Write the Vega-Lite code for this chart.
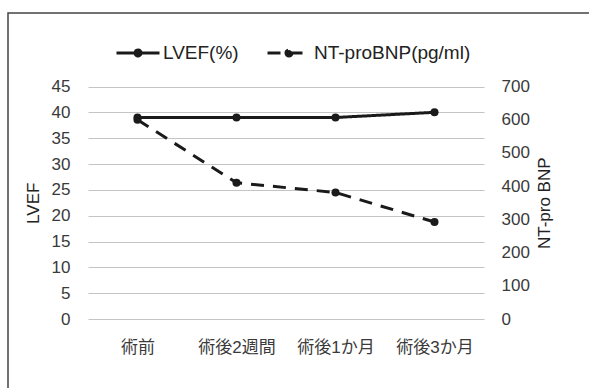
{
  "$schema": "https://vega.github.io/schema/vega-lite/v6.json",
  "autosize": "none",
  "width": 582,
  "height": 380,
  "padding": {"left": 8, "top": 13, "right": 0, "bottom": 0},
  "background": "white",
  "config": {
    "view": {"stroke": "#444444", "strokeWidth": 1.5},
    "font": "Liberation Sans, Noto Sans CJK JP",
    "axis": {
      "labelFont": "Liberation Sans, Noto Sans CJK JP",
      "titleFont": "Liberation Sans, Noto Sans CJK JP",
      "labelColor": "#3a3a3a",
      "titleColor": "#222222",
      "titleFontWeight": "normal",
      "labelFontSize": 17,
      "titleFontSize": 17,
      "ticks": false,
      "tickSize": 0,
      "domain": false,
      "gridColor": "#c4c4c4",
      "gridWidth": 1.2
    }
  },
  "datasets": {
    "lvef": [
      {"cat": "術前", "series": "LVEF(%)", "value": 39},
      {"cat": "術後2週間", "series": "LVEF(%)", "value": 39},
      {"cat": "術後1か月", "series": "LVEF(%)", "value": 39},
      {"cat": "術後3か月", "series": "LVEF(%)", "value": 40}
    ],
    "bnp": [
      {"cat": "術前", "series": "NT-proBNP(pg/ml)", "value": 600},
      {"cat": "術後2週間", "series": "NT-proBNP(pg/ml)", "value": 410},
      {"cat": "術後1か月", "series": "NT-proBNP(pg/ml)", "value": 381},
      {"cat": "術後3か月", "series": "NT-proBNP(pg/ml)", "value": 292}
    ]
  },
  "encoding": {
    "x": {
      "field": "cat",
      "type": "ordinal",
      "sort": ["術前", "術後2週間", "術後1か月", "術後3か月"],
      "scale": {"type": "point", "range": [80, 476], "padding": 0.5},
      "axis": {"title": null, "labelAngle": 0, "offset": -74, "labelPadding": 20, "grid": false}
    }
  },
  "layer": [
    {
      "data": {"name": "lvef"},
      "mark": {"type": "line", "strokeWidth": 3, "color": "#1a1a1a", "point": {"filled": true, "size": 65, "color": "#1a1a1a"}},
      "encoding": {
        "y": {
          "field": "value",
          "type": "quantitative",
          "scale": {"domain": [0, 45], "range": [306, 73.5]},
          "axis": {
            "title": "LVEF",
            "values": [0, 5, 10, 15, 20, 25, 30, 35, 40, 45],
            "offset": -80,
            "labelPadding": 18,
            "titlePadding": 9,
            "grid": true
          }
        },
        "strokeDash": {
          "field": "series",
          "type": "nominal",
          "scale": {"domain": ["LVEF(%)", "NT-proBNP(pg/ml)"], "range": [[1, 0], [13, 9]]},
          "legend": {
            "orient": "none",
            "legendX": 107,
            "legendY": 17,
            "direction": "horizontal",
            "title": null,
            "symbolType": "M-1,0H1M0.14,0A0.14,0.14,0,1,1,-0.14,0A0.14,0.14,0,1,1,0.14,0Z",
            "symbolSize": 1849,
            "symbolStrokeWidth": 3,
            "symbolStrokeColor": "#1a1a1a",
            "symbolFillColor": "#1a1a1a",
            "labelFont": "Liberation Sans, Noto Sans CJK JP",
            "labelFontSize": 19,
            "labelColor": "#222222",
            "columnPadding": 22,
            "labelOffset": 2,
            "padding": 0,
            "encode": {
              "symbols": {
                "update": {
                  "fill": {"value": "#1a1a1a"},
                  "stroke": {"value": "#1a1a1a"},
                  "strokeWidth": {"value": 3},
                  "opacity": {"value": 1},
                  "strokeDash": {"signal": "datum.value === 'LVEF(%)' ? [1, 0] : [15, 4, 30, 0]"}
                }
              }
            }
          }
        }
      }
    },
    {
      "data": {"name": "bnp"},
      "mark": {"type": "line", "strokeWidth": 3, "color": "#1a1a1a", "point": {"filled": true, "size": 65, "color": "#1a1a1a"}},
      "encoding": {
        "y": {
          "field": "value",
          "type": "quantitative",
          "scale": {"domain": [0, 700], "range": [306, 73.5]},
          "axis": {
            "orient": "right",
            "title": "NT-pro BNP",
            "values": [0, 100, 200, 300, 400, 500, 600, 700],
            "offset": -106,
            "labelPadding": 17,
            "titlePadding": 7,
            "titleAngle": 270,
            "titleBaseline": "top",
            "grid": false
          }
        },
        "strokeDash": {"field": "series", "type": "nominal"}
      }
    }
  ],
  "resolve": {"scale": {"y": "independent"}}
}
